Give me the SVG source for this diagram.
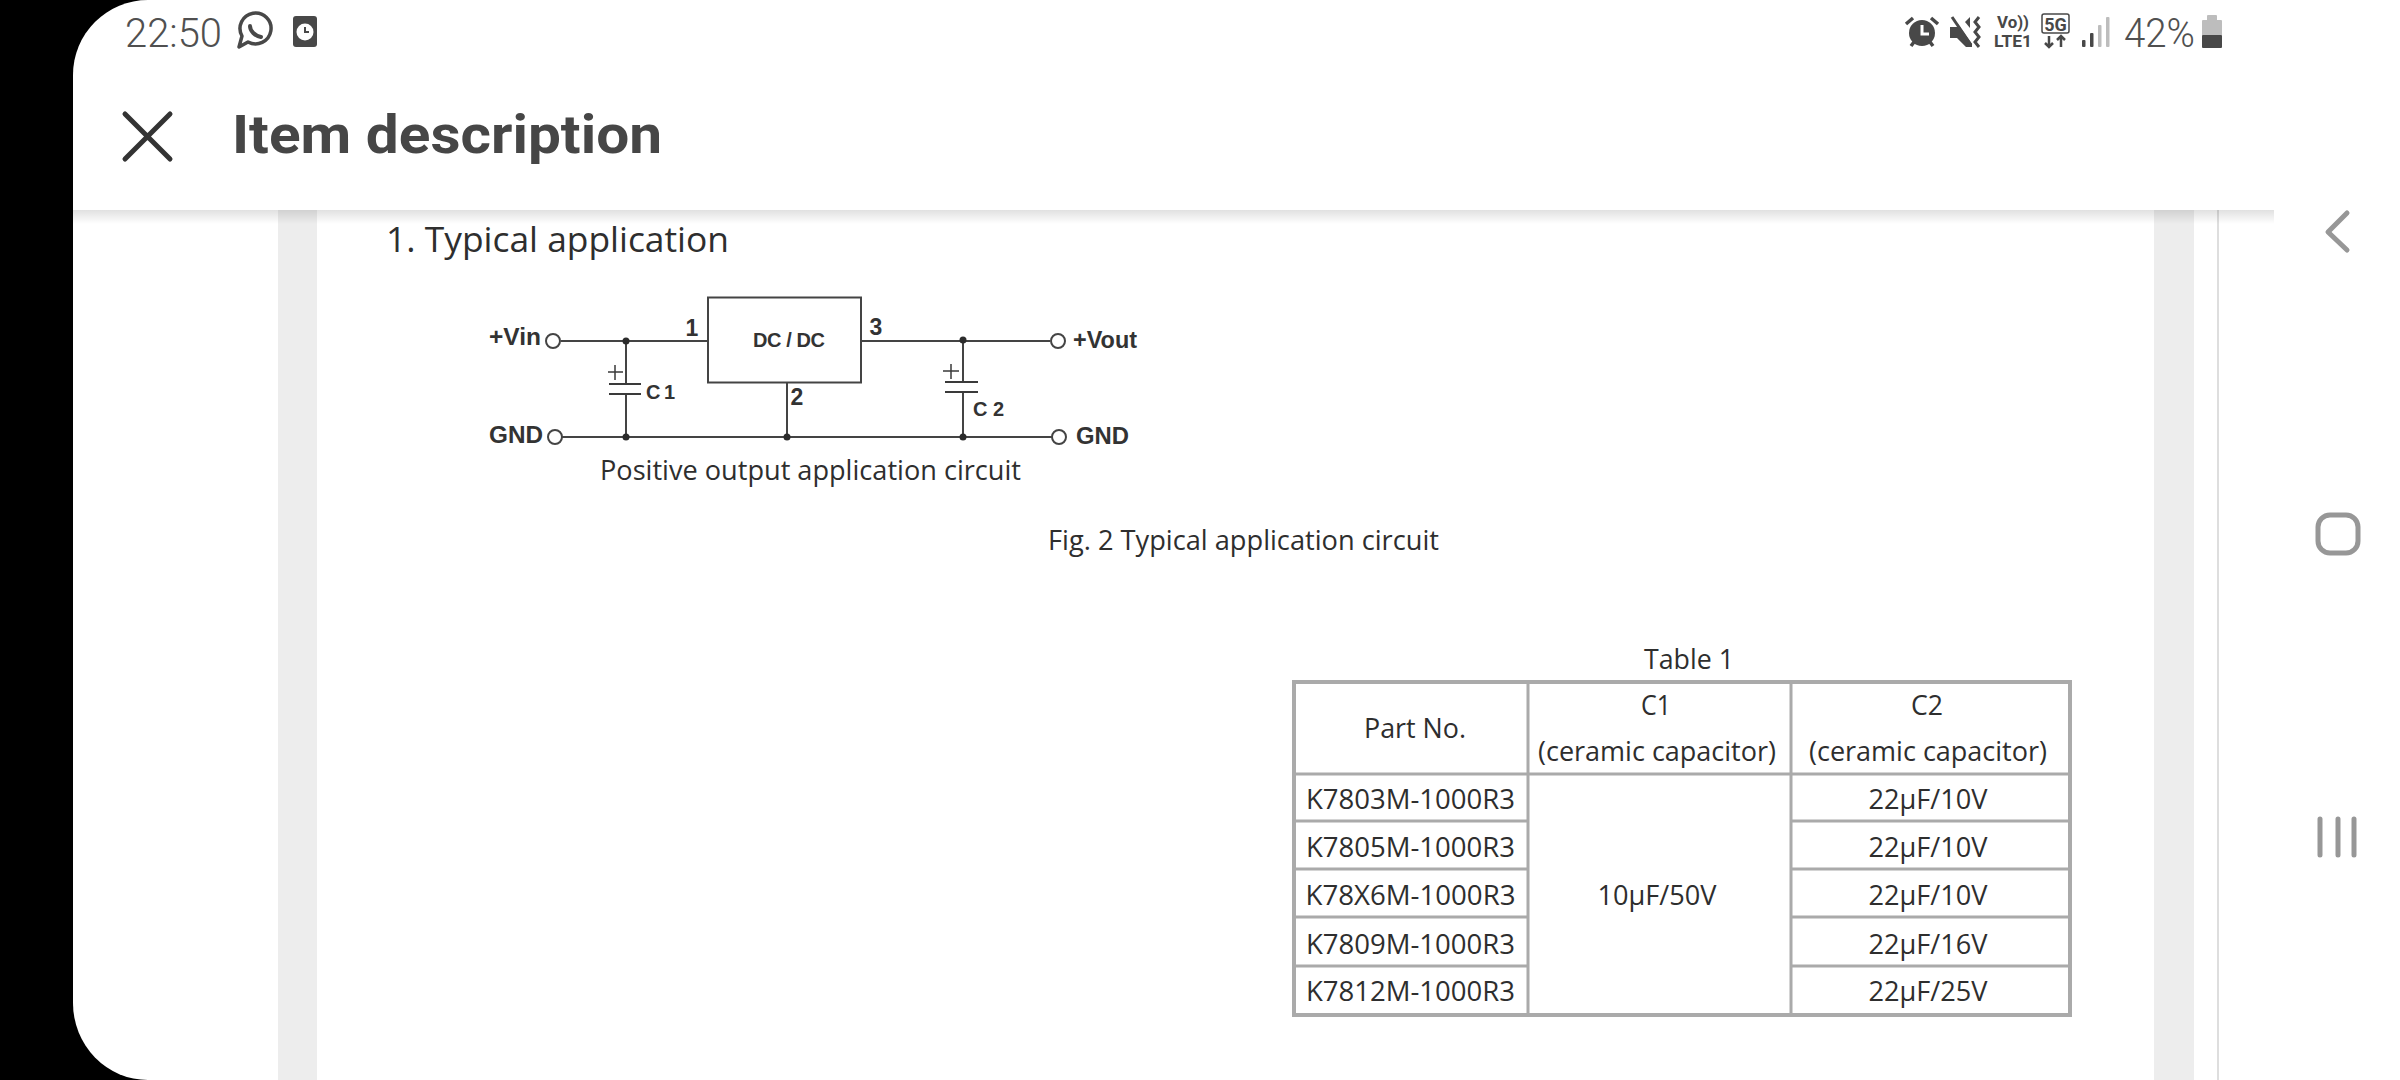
<svg xmlns="http://www.w3.org/2000/svg" width="2400" height="1080" viewBox="0 0 2400 1080">
<style>
text{font-family:"Open Sans","Liberation Sans",sans-serif;fill:#2e2e2e}
.doc{font-size:28px}
.tb{font-size:28px;text-anchor:middle}
.ctr{font-family:"Liberation Sans",Arial,sans-serif;font-weight:700;fill:#333;font-size:23px}
.sm{font-size:20px}
.st{font-family:Roboto,"Liberation Sans",sans-serif;font-weight:300;fill:#505050;font-size:40px}
.ic{font-family:Roboto,"Liberation Sans",sans-serif;font-weight:700;fill:#484848;font-size:18px}
.w{stroke:#444;stroke-width:2;fill:none}
.term{stroke:#444;stroke-width:2;fill:#fff}
.dot{fill:#2c2c2c}
.plate{stroke:#3a3a3a;stroke-width:2;fill:none}
.plus{stroke:#3a3a3a;stroke-width:1.500;fill:none}
.grid{stroke:#aaa;stroke-width:3;fill:none}
.outer{stroke:#aaa;stroke-width:4;fill:none}
.nav{stroke:#979797;stroke-width:5;fill:none;stroke-linecap:round;stroke-linejoin:round}
.bar{fill:#ededed}
.d{fill:#484848}
.l{fill:#bdbdbd}
</style>
<defs>
<linearGradient id="shadow" x1="0" y1="0" x2="0" y2="1"><stop offset="0" stop-color="#000" stop-opacity=".12"/><stop offset="1" stop-color="#000" stop-opacity="0"/></linearGradient>
</defs>
<rect width="2400" height="1080" fill="#000"/>
<path d="M148 0H2400V1080H148A75 77 0 0 1 73 1003V75A75 75 0 0 1 148 0Z" fill="#fff"/>
<rect id="gutter-left" class="bar" x="278" y="210" width="39" height="870"/>
<rect id="gutter-right" class="bar" x="2154" y="210" width="40" height="870"/>
<rect id="rule-right" x="2217" y="210" width="2" height="870" fill="#dedede"/>
<rect id="shadow-strip" x="73" y="210" width="2201" height="14" fill="url(#shadow)"/>

<g id="status-left">
<text class="st" x="125" y="47" textLength="97" lengthAdjust="spacingAndGlyphs">22:50</text>
<g id="icon-chat">
<path d="M239 47l3-11a15.500 15.500 0 1 1 6 6z" fill="none" stroke="#484848" stroke-width="3.500" stroke-linejoin="round"/>
<path d="M250 26c0 5 5 10 11 11" fill="none" stroke="#484848" stroke-width="4" stroke-linecap="round"/>
</g>
<g id="icon-clock">
<rect class="d" x="293" y="16" width="24" height="31" rx="3"/>
<circle cx="305" cy="32" r="8.500" fill="#fff"/>
<path d="M305 27v5h4" fill="none" stroke="#484848" stroke-width="2"/>
</g>
</g>

<g id="status-right">
<g id="icon-alarm">
<circle class="d" cx="1922" cy="33" r="13"/>
<path d="M1922 25v9h7" fill="none" stroke="#fff" stroke-width="3"/>
<path d="M1906 24l7-6M1938 24l-7-6M1911 46l3-4M1933 46l-3-4" fill="none" stroke="#484848" stroke-width="3.500"/>
</g>
<g id="icon-mute">
<path class="d" d="M1950 27h7l1 -3 14 20v3l-6 0-9-9h-7z"/>
<path d="M1952 17l19 28" stroke="#484848" stroke-width="3"/>
<path class="d" d="M1970 17l-5 5 5 6z"/>
<path d="M1979 17l-4 5 4 5-4 5 4 5-4 5 4 5" fill="none" stroke="#484848" stroke-width="3"/>
</g>
<g id="icon-volte">
<text class="ic" x="1997" y="28" style="font-size:16px" textLength="32" lengthAdjust="spacingAndGlyphs">Vo))</text>
<text class="ic" x="1994" y="47" style="font-size:17px" textLength="38" lengthAdjust="spacingAndGlyphs">LTE1</text>
</g>
<g id="icon-5g">
<rect x="2042" y="14" width="27" height="19" rx="2" fill="none" stroke="#484848" stroke-width="1.500"/>
<text class="ic" x="2055.500" y="31" text-anchor="middle">5G</text>
<path d="M2049 36v11M2045 43l4 4 4-4M2061 47v-11M2057 40l4-4 4 4" fill="none" stroke="#484848" stroke-width="2.500"/>
</g>
<g id="icon-signal">
<rect class="d" x="2082" y="40" width="3.500" height="7" rx="1"/>
<rect class="d" x="2090" y="33" width="3.500" height="14" rx="1"/>
<rect class="l" x="2098" y="25" width="3.500" height="22" rx="1"/>
<rect class="l" x="2106" y="17" width="3.500" height="30" rx="1"/>
</g>
<text class="st" x="2124" y="47" textLength="71" lengthAdjust="spacingAndGlyphs">42%</text>
<g id="icon-battery">
<rect class="l" x="2207" y="15" width="10" height="6" rx="1"/>
<rect class="l" x="2202" y="20" width="20" height="16" rx="1"/>
<rect class="d" x="2202" y="35" width="20" height="13" rx="1"/>
</g>
</g>

<g id="header">
<path d="M125 114L170 159M170 114L125 159" fill="none" stroke="#333" stroke-width="5" stroke-linecap="round"/>
<text x="232" y="153" textLength="430" lengthAdjust="spacingAndGlyphs" style="font-family:Roboto,'Liberation Sans',sans-serif;font-weight:700;font-size:54px;fill:#464646">Item description</text>
</g>

<g id="nav-buttons">
<path class="nav" d="M2347 213L2328 232L2347 250"/>
<rect class="nav" x="2318" y="515" width="40" height="38" rx="12"/>
<path class="nav" d="M2320 819V855M2338 819V855M2354 819V855"/>
</g>

<text id="heading" x="386" y="252" textLength="343" lengthAdjust="spacingAndGlyphs" style="font-size:35px">1. Typical application</text>

<g id="connectors">
<path class="w" d="M561 341H708"/>
<path class="w" d="M861 341H1050"/>
<path class="w" d="M562 437H1052"/>
<path class="w" d="M787 382V437"/>
<path class="w" d="M626 341V384M626 394V437"/>
<path class="w" d="M963 341V382M963 392V437"/>
</g>

<g id="dcdc">
<rect class="w" x="708" y="297.500" width="153" height="85"/>
<text class="ctr sm" x="789" y="347" text-anchor="middle" textLength="72" lengthAdjust="spacing">DC / DC</text>
<text class="ctr" x="692" y="336" text-anchor="middle">1</text>
<text class="ctr" x="876" y="335" text-anchor="middle">3</text>
<text class="ctr" x="797" y="405" text-anchor="middle">2</text>
</g>

<g id="c1">
<path class="plate" d="M609 384H641M609 394H641"/>
<path class="plus" d="M608 372H623M615 365V380"/>
<text class="ctr sm" x="646" y="399" textLength="29" lengthAdjust="spacing">C 1</text>
</g>
<g id="c2">
<path class="plate" d="M945 382H978M945 392H978"/>
<path class="plus" d="M943 371H959M951 364V379"/>
<text class="ctr sm" x="973" y="416" textLength="31" lengthAdjust="spacing">C 2</text>
</g>

<g id="junctions">
<circle class="dot" cx="626" cy="341" r="3.500"/>
<circle class="dot" cx="626" cy="437" r="3.500"/>
<circle class="dot" cx="787" cy="437" r="3.500"/>
<circle class="dot" cx="963" cy="340" r="3.500"/>
<circle class="dot" cx="963" cy="437" r="3.500"/>
</g>

<g id="vin"><circle class="term" cx="553" cy="341" r="7"/><text class="ctr" x="489" y="345" textLength="52" lengthAdjust="spacingAndGlyphs">+Vin</text></g>
<g id="gnd-in"><circle class="term" cx="555" cy="437" r="7"/><text class="ctr" x="489" y="443" textLength="54" lengthAdjust="spacingAndGlyphs">GND</text></g>
<g id="vout"><circle class="term" cx="1058" cy="341" r="7"/><text class="ctr" x="1073" y="348" textLength="64" lengthAdjust="spacingAndGlyphs">+Vout</text></g>
<g id="gnd-out"><circle class="term" cx="1059" cy="437" r="7"/><text class="ctr" x="1076" y="444" textLength="53" lengthAdjust="spacingAndGlyphs">GND</text></g>

<text class="doc" x="600" y="480" textLength="421" lengthAdjust="spacingAndGlyphs">Positive output application circuit</text>
<text class="doc" x="1048" y="550" textLength="391" lengthAdjust="spacingAndGlyphs">Fig. 2 Typical application circuit</text>

<g id="table">
<text class="tb" x="1689" y="669" textLength="90" lengthAdjust="spacingAndGlyphs">Table 1</text>
<path class="outer" d="M1294 682H2070V1015H1294Z"/>
<path class="grid" d="M1528 682V1015M1791 682V1015M1294 774H2070M1294 821H1528M1791 821H2070M1294 869H1528M1791 869H2070M1294 917H1528M1791 917H2070M1294 966H1528M1791 966H2070"/>
<text class="tb" x="1415" y="737.500" textLength="102" lengthAdjust="spacingAndGlyphs">Part No.</text>
<text class="tb" x="1656" y="715" textLength="30" lengthAdjust="spacingAndGlyphs">C1</text>
<text class="tb" x="1927" y="715" textLength="32" lengthAdjust="spacingAndGlyphs">C2</text>
<text class="tb" x="1657" y="761" textLength="238" lengthAdjust="spacingAndGlyphs">(ceramic capacitor)</text>
<text class="tb" x="1928" y="761" textLength="238" lengthAdjust="spacingAndGlyphs">(ceramic capacitor)</text>
<text class="tb" x="1410.500" y="808.500" textLength="209" lengthAdjust="spacingAndGlyphs">K7803M-1000R3</text>
<text class="tb" x="1410.500" y="856.500" textLength="209" lengthAdjust="spacingAndGlyphs">K7805M-1000R3</text>
<text class="tb" x="1410.500" y="904.500" textLength="210" lengthAdjust="spacingAndGlyphs">K78X6M-1000R3</text>
<text class="tb" x="1410.500" y="953.500" textLength="209" lengthAdjust="spacingAndGlyphs">K7809M-1000R3</text>
<text class="tb" x="1410.500" y="1000.500" textLength="209" lengthAdjust="spacingAndGlyphs">K7812M-1000R3</text>
<text class="tb" x="1657" y="904.500" textLength="119" lengthAdjust="spacingAndGlyphs">10µF/50V</text>
<text class="tb" x="1928" y="808.500" textLength="119" lengthAdjust="spacingAndGlyphs">22µF/10V</text>
<text class="tb" x="1928" y="856.500" textLength="119" lengthAdjust="spacingAndGlyphs">22µF/10V</text>
<text class="tb" x="1928" y="904.500" textLength="119" lengthAdjust="spacingAndGlyphs">22µF/10V</text>
<text class="tb" x="1928" y="953.500" textLength="119" lengthAdjust="spacingAndGlyphs">22µF/16V</text>
<text class="tb" x="1928" y="1000.500" textLength="119" lengthAdjust="spacingAndGlyphs">22µF/25V</text>
</g>
</svg>
